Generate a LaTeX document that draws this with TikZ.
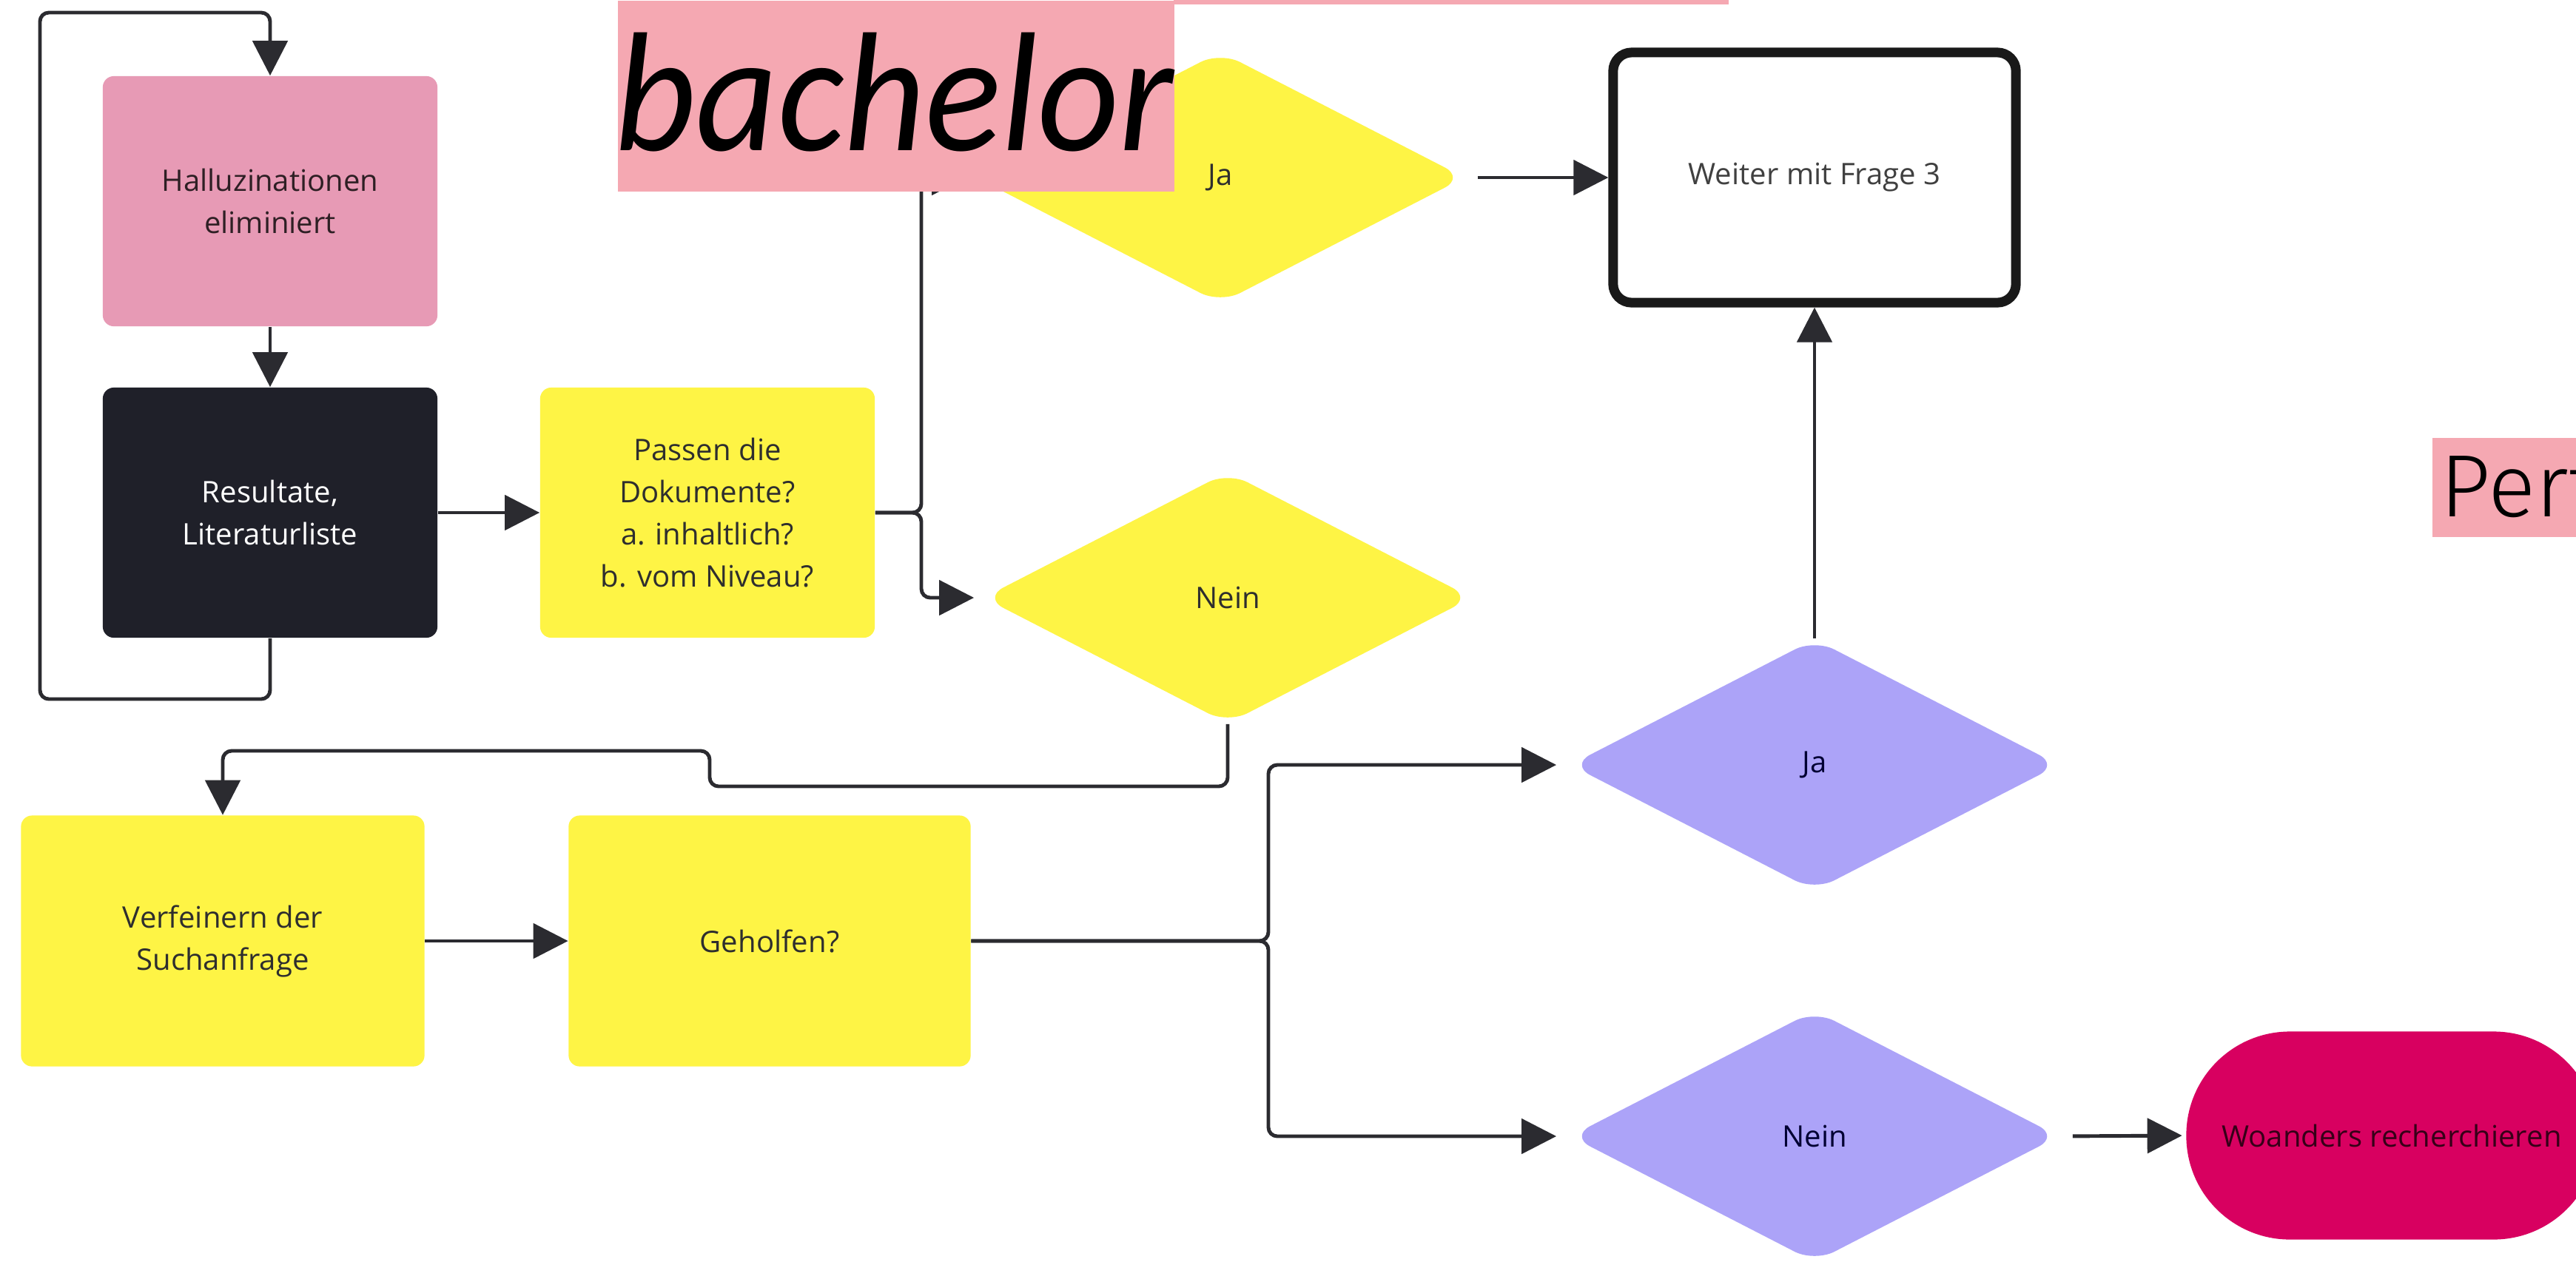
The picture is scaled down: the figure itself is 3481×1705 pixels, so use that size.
\documentclass[tikz,border=0pt]{standalone}
\usepackage{fontspec}
\setmainfont{Open Sans}
\newfontfamily\bachfont{Carlito}
\newfontfamily\pertfont{Fira Sans Light}
\usetikzlibrary{arrows.meta,shapes.geometric}
\definecolor{linec}{HTML}{2B2B30}
\definecolor{pinkbox}{HTML}{E79AB5}
\definecolor{darkbox}{HTML}{1F2029}
\definecolor{yel}{HTML}{FEF445}
\definecolor{purp}{HTML}{ACA3F8}
\definecolor{crim}{HTML}{D80060}
\definecolor{labelpink}{HTML}{F5A8B2}
\definecolor{txt}{HTML}{2E2E2E}
\newcommand\diagfont{\fontsize{11.4pt}{16.2pt}\selectfont}
\tikzset{
  box/.style={rectangle, rounded corners=0.15cm, minimum width=4.52cm, minimum height=3.38cm,
    inner sep=0pt, align=center, font=\diagfont, text=txt},
  dia/.style={diamond, rounded corners=0.3cm, minimum width=6.6cm, minimum height=3.4cm,
    inner sep=0pt, font=\diagfont, text=txt},
  conn/.style={draw=linec, line width=1.4pt, rounded corners=0.12cm},
  arr/.style={conn, -{Triangle[length=0.47cm, width=0.47cm]}},
}
\begin{document}
\begin{tikzpicture}[x=0.01cm, y=-0.01cm]
\useasboundingbox (0,0) rectangle (3481,1705);
\clip (0,0) rectangle (3481,1705);
\fill[white] (0,0) rectangle (3481,1705);

% boxes
\node[box, fill=pinkbox, text=black!80!pinkbox] (pink) at (365,272) {Halluzinationen\\eliminiert};
\node[box, fill=darkbox, text=white] (black) at (365,693) {Resultate,\\Literaturliste};
\node[box, fill=yel] (pass) at (956,693) {Passen die\\Dokumente?\\a. inhaltlich?\\b. vom Niveau?};
\node[box, draw=black!90, line width=3.7pt, rounded corners=0.25cm, minimum width=5.44cm, minimum height=3.38cm, fill=white, text=black!75] (weiter) at (2452,240) {Weiter mit Frage 3};
\node[box, fill=yel, minimum width=5.45cm, minimum height=3.39cm] (verf) at (301,1272) {Verfeinern der\\Suchanfrage};
\node[box, fill=yel, minimum width=5.43cm, minimum height=3.39cm] (gehol) at (1040,1272) {Geholfen?};
\node[box, fill=crim, rounded corners=1.4cm, minimum width=5.55cm, minimum height=2.81cm, text=black!75!crim] (woand) at (3232,1535) {Woanders recherchieren};

% diamonds
\node[dia, fill=yel] (yja) at (1649,240) {Ja};
\node[dia, fill=yel] (ynein) at (1659,808) {Nein};
\node[dia, fill=purp, text=black!80!blue] (pja) at (2452,1034) {Ja};
\node[dia, fill=purp, text=black!80!blue] (pnein) at (2452,1536) {Nein};

% junction coordinates
\coordinate (j1) at (1245,693);
\coordinate (j2) at (1714,1272);
\coordinate (n1) at (959,1063);
\coordinate (n2) at (959,1015);
\coordinate (l1) at (54,945);
\coordinate (l2) at (54,17);

% connectors
\draw[arr] (black.south) |- (l1) -- (l2) -| (pink.north);
\draw[arr] (pink.south) -- (black.north);
\draw[arr] (black.east) -- (pass.west);
\draw[arr, shorten >=0.12cm] (pass.east) -- (j1) |- (yja.west);
\draw[arr, shorten >=0.12cm] (pass.east) -- (j1) |- (ynein.west);
\draw[arr, shorten <=0.17cm] (yja.east) -- (weiter.west);
\draw[arr] (ynein.south) |- (n1) -- (n2) -| (verf.north);
\draw[arr] (verf.east) -- (gehol.west);
\draw[arr, shorten >=0.18cm] (gehol.east) -- (j2) |- (pja.west);
\draw[arr, shorten >=0.18cm] (gehol.east) -- (j2) |- (pnein.west);
\draw[arr] (pja.north) -- (weiter.south);
\draw[arr, shorten <=0.18cm, shorten >=0.05cm] (pnein.east) -- (woand.west);

% overlaid labels
\node[fill=labelpink, anchor=north west, minimum width=7.52cm, minimum height=2.58cm, inner sep=0pt] (bachbox) at (834,0) {};
\fill[labelpink] (1586,0) rectangle (2336,6);
\node[anchor=base west, inner sep=0pt, font=\bachfont\itshape\fontsize{61pt}{63pt}\selectfont] (bach) at (830,203) {\scalebox{1}[1.07]{bachelor}};
\node[fill=labelpink, anchor=north west, minimum width=2.2cm, minimum height=1.34cm, inner sep=0pt] (pertbox) at (3286,591) {};
\node[anchor=base west, inner sep=0pt, font=\pertfont\fontsize{34pt}{36pt}\selectfont] (pert) at (3297,698) {Pert};
\end{tikzpicture}
\end{document}
